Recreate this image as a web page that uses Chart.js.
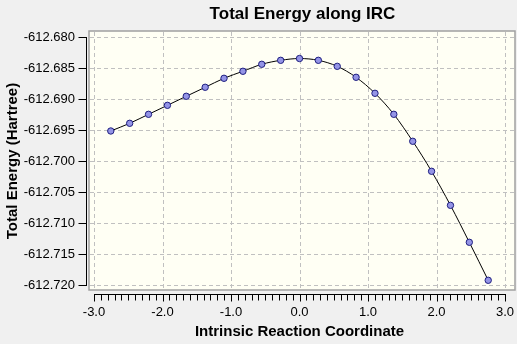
<!DOCTYPE html>
<html>
<head>
<meta charset="utf-8">
<title>Total Energy along IRC</title>
<script src="https://cdn.jsdelivr.net/npm/chart.js@4.4.1/dist/chart.umd.min.js"></script>
<style>
    html, body { margin: 0; padding: 0; background: #f0f0f0; }
    #wrap { width: 517px; height: 344px; }
</style>
</head>
<body>
<div id="wrap"><canvas id="ircChart" width="517" height="344"></canvas></div>
<script>

// reaction coordinate of every IRC point
const coords = [-2.755, -2.479, -2.204, -1.928, -1.653, -1.377, -1.102, -0.826, -0.551, -0.275, 0.0,
                0.275, 0.551, 0.826, 1.102, 1.377, 1.653, 1.928, 2.204, 2.479, 2.755];
// total energy (Hartree)
const energies = [-612.69516, -612.69392, -612.69247, -612.69102, -612.68956, -612.68811, -612.68666,
                  -612.68553, -612.68440, -612.68376, -612.68347, -612.68376, -612.68473, -612.68650,
                  -612.68908, -612.69247, -612.69682, -612.70166, -612.70715, -612.71311, -612.71924];

const xTicks = [-3.0, -2.0, -1.0, 0.0, 1.0, 2.0, 3.0];
const yTicks = [-612.680, -612.685, -612.690, -612.695, -612.700, -612.705, -612.710, -612.715, -612.720];

const FONT = "'Liberation Sans', Arial, sans-serif";

// frame, dashed grid, detached axes and the title
const plotFrame = {
    id: 'plotFrame',
    beforeDraw(chart) {
        const ctx = chart.ctx;
        const a = chart.chartArea;
        ctx.save();
        ctx.fillStyle = '#f0f0f0';
        ctx.fillRect(0, 0, chart.width, chart.height);
        ctx.fillStyle = '#fffff4';
        ctx.fillRect(a.left - 5, a.top - 6, a.right - a.left + 15, a.bottom - a.top + 11);
        ctx.strokeStyle = '#a0a0a0';
        ctx.lineWidth = 1.5;
        ctx.strokeRect(a.left - 5, a.top - 6, a.right - a.left + 15, a.bottom - a.top + 11);
        ctx.restore();
    },
    beforeDatasetsDraw(chart) {
        const ctx = chart.ctx;
        const a = chart.chartArea;
        const xs = chart.scales.x, ys = chart.scales.y;
        ctx.save();
        ctx.strokeStyle = '#c0c0c0';
        ctx.lineWidth = 1;
        ctx.setLineDash([4, 3]);
        xTicks.forEach(v => {
            const px = Math.round(xs.getPixelForValue(v)) + 0.5;
            ctx.beginPath();
            ctx.moveTo(px, a.top - 5);
            ctx.lineTo(px, a.bottom + 5);
            ctx.stroke();
        });
        yTicks.forEach(v => {
            const py = Math.round(ys.getPixelForValue(v)) + 0.5;
            ctx.beginPath();
            ctx.moveTo(a.left - 4, py);
            ctx.lineTo(a.right + 10, py);
            ctx.stroke();
        });
        ctx.restore();
    },
    afterDraw(chart) {
        const ctx = chart.ctx;
        const a = chart.chartArea;
        const xs = chart.scales.x, ys = chart.scales.y;
        ctx.save();
        ctx.strokeStyle = '#000';
        ctx.lineWidth = 1;

        // y axis
        const ax = a.left - 7.5;
        ctx.beginPath();
        ctx.moveTo(ax, Math.round(ys.getPixelForValue(yTicks[0])));
        ctx.lineTo(ax, Math.round(ys.getPixelForValue(yTicks[yTicks.length - 1])) + 1);
        yTicks.forEach(v => {
            const py = Math.round(ys.getPixelForValue(v)) + 0.5;
            ctx.moveTo(ax, py);
            ctx.lineTo(ax - 8, py);
        });
        ctx.stroke();

        // x axis with minor ticks every 0.1
        const ay = a.bottom + 9.5;
        ctx.beginPath();
        ctx.moveTo(Math.round(xs.getPixelForValue(-3)), ay);
        ctx.lineTo(Math.round(xs.getPixelForValue(3)) + 1, ay);
        for (let i = -30; i <= 30; i++) {
            const px = Math.round(xs.getPixelForValue(i / 10)) + 0.5;
            ctx.moveTo(px, ay);
            ctx.lineTo(px, ay + (i % 10 === 0 ? 7 : 6));
        }
        ctx.stroke();

        // chart title
        ctx.fillStyle = '#000';
        ctx.font = 'bold 17px ' + FONT;
        ctx.textAlign = 'center';
        ctx.textBaseline = 'alphabetic';
        ctx.fillText('Total Energy along IRC', (a.left + a.right) / 2 + 3, 19);
        ctx.restore();
    }
};

const ctx = document.getElementById('ircChart').getContext('2d');

const ircChart = new Chart(ctx, {
    type: 'line',
    data: {
        datasets: [{
            data: coords.map((c, i) => ({ x: c, y: energies[i] })),
            borderColor: '#000000',
            borderWidth: 1,
            cubicInterpolationMode: 'monotone',
            pointRadius: 3.2,
            pointBackgroundColor: '#9494e6',
            pointBorderColor: '#202080',
            pointBorderWidth: 1,
            fill: false
        }]
    },
    options: {
        responsive: false,
        animation: false,
        layout: { padding: { top: 37, right: 12, left: 0, bottom: 0 } },
        plugins: {
            legend: { display: false },
            tooltip: { enabled: false }
        },
        scales: {
            x: {
                type: 'linear',
                min: -3,
                max: 3,
                afterBuildTicks: (scale) => { scale.ticks = xTicks.map(v => ({ value: v })); },
                afterFit: (scale) => {
                    scale.height = 59;
                    scale.paddingLeft = 0;
                    scale.paddingRight = 0;
                },
                grid: { display: false, drawTicks: false },
                border: { display: false },
                ticks: {
                    padding: 20,
                    color: '#000',
                    font: { family: FONT, size: 13 },
                    callback: (v) => v.toFixed(1)
                },
                title: {
                    display: true,
                    text: 'Intrinsic Reaction Coordinate',
                    color: '#000',
                    font: { family: FONT, size: 15, weight: 'bold' },
                    padding: { top: 0, bottom: 3 }
                }
            },
            y: {
                min: -612.720,
                max: -612.680,
                afterBuildTicks: (scale) => { scale.ticks = yTicks.map(v => ({ value: v })); },
                afterFit: (scale) => {
                    scale.width = 94;
                    scale.paddingTop = 0;
                    scale.paddingBottom = 0;
                },
                grid: { display: false, drawTicks: false },
                border: { display: false },
                ticks: {
                    padding: 19,
                    color: '#000',
                    font: { family: FONT, size: 13 },
                    callback: (v) => v.toFixed(3)
                },
                title: {
                    display: true,
                    text: 'Total Energy (Hartree)',
                    color: '#000',
                    font: { family: FONT, size: 15, weight: 'bold' },
                    padding: { top: 4, bottom: 0 }
                }
            }
        }
    },
    plugins: [plotFrame]
});
</script>
</body>
</html>
